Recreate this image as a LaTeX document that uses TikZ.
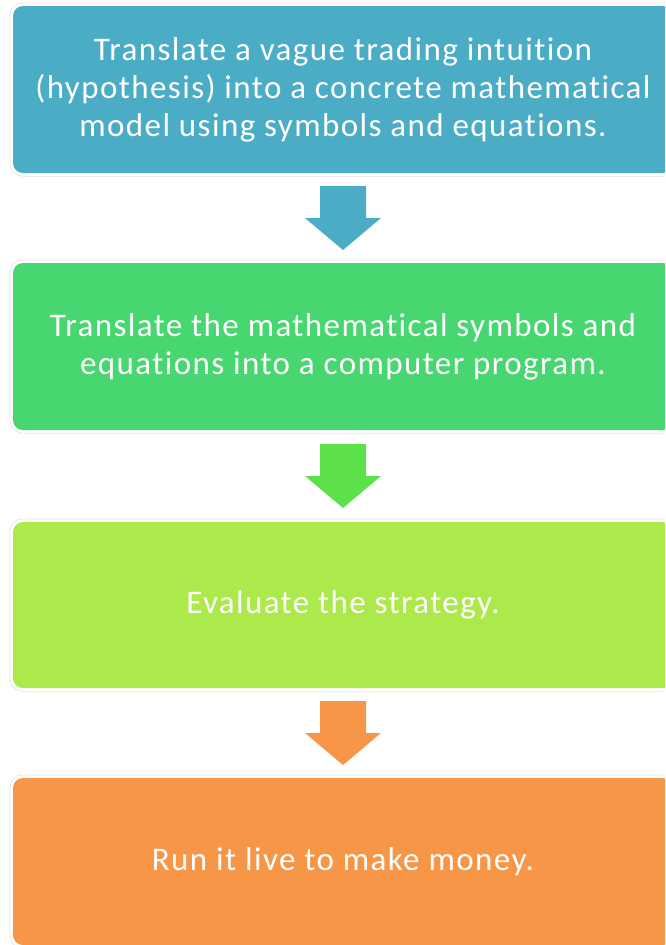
\documentclass[tikz,border=0pt]{standalone}
\usepackage{fontspec}
\setmainfont[LetterSpace=4.3, Ligatures=NoCommon]{Carlito}
\usetikzlibrary{calc}
\definecolor{cblue}{HTML}{4BACC6}
\definecolor{cgreen}{HTML}{48D670}
\definecolor{cgreenarrow}{HTML}{5CE14A}
\definecolor{clime}{HTML}{ACE94A}
\definecolor{corange}{HTML}{F79646}
\newcommand\blockarrow[2]{%
  \fill[#1, shift={(#2)}] (-23,-32) -- (23,-32) -- (23,0) -- (38,0) -- (0,32) -- (-38,0) -- (-23,0) -- cycle;}
\begin{document}
\begin{tikzpicture}[x=1pt,y=-1pt,
  stepbox/.style={rectangle, rounded corners=10pt, minimum width=660pt, minimum height=167pt,
    inner sep=0pt, align=center, text=white, font=\fontsize{33}{38}\selectfont,
    preaction={draw=gray!22, line width=7pt},
    preaction={draw=white, line width=5.5pt}}]
\useasboundingbox (0,0) rectangle (665,945);
\fill[white] (0,0) rectangle (665,945);
\begin{scope}
\clip (0,0) rectangle (665,945);
\node[stepbox, fill=cblue] (b1) at (343,89.5) {Translate a vague trading intuition\\(hypothesis) into a concrete mathematical\\model using symbols and equations.};
\node[stepbox, fill=cgreen] (b2) at (343,346.5) {Translate the mathematical symbols and\\equations into a computer program.};
\node[stepbox, fill=clime, minimum height=166pt] (b3) at (343,605) {Evaluate the strategy.};
\node[stepbox, fill=corange] (b4) at (343,861.5) {Run it live to make money.};
\coordinate (a1) at ($(b1.south)!0.5!(b2.north)$);
\coordinate (a2) at ($(b2.south)!0.5!(b3.north)$);
\coordinate (a3) at ($(b3.south)!0.5!(b4.north)$);
\blockarrow{cblue}{a1}
\blockarrow{cgreenarrow}{a2}
\blockarrow{corange}{a3}
\end{scope}
\end{tikzpicture}
\end{document}
